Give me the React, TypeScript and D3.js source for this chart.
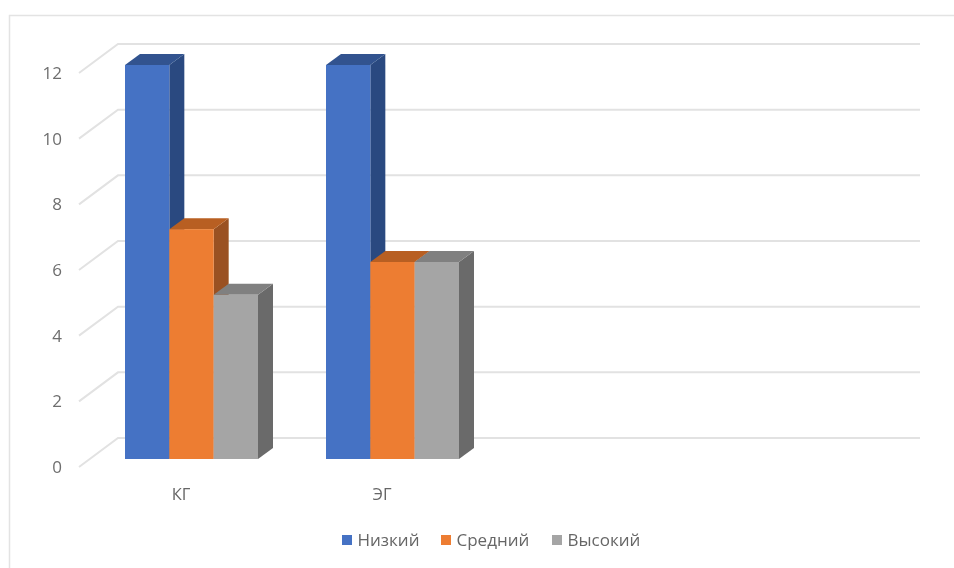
import React from "react";
import * as d3 from "d3";

const categories = ["КГ", "ЭГ"];
const seriesNames = ["Низкий", "Средний", "Высокий"];
const low = [12, 12];
const mid = [7, 6];
const high = [5, 6];
const yTicks = [0, 2, 4, 6, 8, 10, 12];
const seriesValues = [low, mid, high];
const frontColors = ["#4472c4", "#ed7d31", "#a5a5a5"];
const sideColors = ["#2a4a80", "#9a5120", "#6b6b6b"];
const topColors = ["#30538f", "#b85f22", "#808080"];
const legendX = [342, 441, 552];

const FONT = "'Open Sans', Lato, sans-serif";
const DX = 15;
const DY = -11;

export default function App() {
  const y = d3.scaleLinear().domain([0, 12]).range([459, 65]);
  const xGroup = d3.scalePoint<string>().domain(categories).range([125, 326]);
  const xBar = d3.scaleBand<number>().domain([0, 1, 2]).range([0, 133]);
  const bw = xBar.bandwidth();
  return (
    <svg
      width={954}
      height={568}
      viewBox="0 0 954 568"
      style={{ position: "absolute", left: 0, top: 0, background: "#fff" }}
      fontFamily={FONT}
    >
      <defs>
        <filter id="soft" x="-5%" y="-5%" width="110%" height="110%">
          <feGaussianBlur stdDeviation="0.6" />
        </filter>
      </defs>
      <g filter="url(#soft)">
        <path d="M954,15.5H9.5V568" fill="none" stroke="#e3e3e3" strokeWidth={1.5} />
        {yTicks.map((t) => (
          <path
            key={t}
            d={`M79,${y(t) + 8}L118,${y(t) - 21}H920`}
            fill="none"
            stroke="#e2e2e2"
            strokeWidth={2}
          />
        ))}
        {categories.map((c, ci) => {
          const x0 = xGroup(c)!;
          return (
            <g key={c}>
              {seriesValues.map((vals, si) => {
                const l = x0 + xBar(si)!;
                const r = l + bw;
                const t = y(vals[ci]);
                const b = y(0);
                return (
                  <g key={si}>
                    <path
                      d={`M${r},${t}L${r + DX},${t + DY}V${b + DY}L${r},${b}Z`}
                      fill={sideColors[si]}
                    />
                    <path
                      d={`M${l},${t}L${l + DX},${t + DY}H${r + DX}L${r},${t}Z`}
                      fill={topColors[si]}
                    />
                    <rect x={l} y={t} width={bw} height={b - t} fill={frontColors[si]} />
                  </g>
                );
              })}
              <text
                x={x0 + 56}
                y={500}
                textAnchor="middle"
                fontSize={16.5}
                fill="#666666"
              >
                {c}
              </text>
            </g>
          );
        })}
        {yTicks.map((t) => (
          <text
            key={t}
            x={62}
            y={y(t) + 14}
            textAnchor="end"
            fontSize={17}
            fill="#6e6e6e"
          >
            {t}
          </text>
        ))}
        {seriesNames.map((n, i) => (
          <g key={n}>
            <rect x={legendX[i]} y={535} width={10} height={10} fill={frontColors[i]} />
            <text x={legendX[i] + 15.5} y={546} fontSize={17} fill="#666666">
              {n}
            </text>
          </g>
        ))}
      </g>
    </svg>
  );
}
